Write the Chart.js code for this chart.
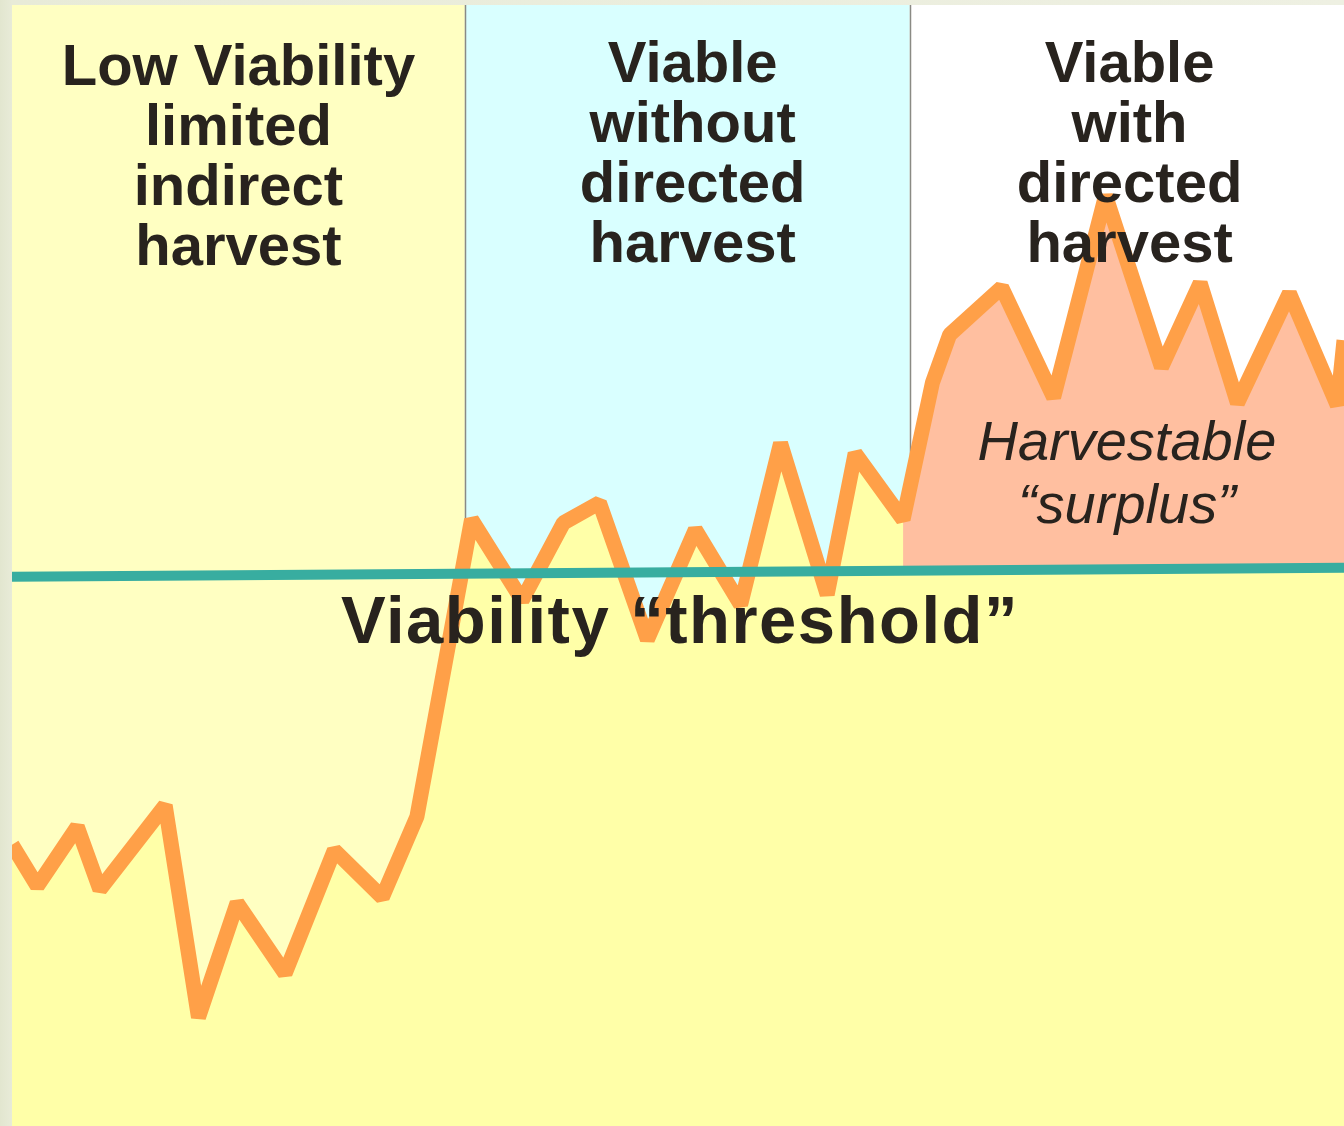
<!DOCTYPE html>
<html>
<head>
<meta charset="utf-8">
<script src="https://cdn.jsdelivr.net/npm/chart.js@4.4.1/dist/chart.umd.min.js"></script>
<style>
  html, body { margin: 0; padding: 0; }
  body { width: 1344px; height: 1126px; background: linear-gradient(90deg, #e2e6cf 0px, #e8ebd8 12px, #eef0e2 100%); overflow: hidden; }
  canvas { display: block; }
</style>
</head>
<body>
<canvas id="viaChart" width="1344" height="1126"></canvas>
<script>
// population trajectory (x = time, y = population index)
let popX = [0, 1.9, 4.9, 6.6, 11.5, 14.0, 16.9, 20.5, 24.2, 27.8, 30.4,
            34.5, 38.3, 41.4, 44.1, 47.7, 51.3, 54.7, 57.7, 61.2, 63.3,
            66.9, 69.1, 70.4, 74.3, 78.2, 82.1, 86.3, 89.2, 92.0, 95.9, 99.5, 100];
let popY = [25.1, 21.4, 26.7, 21.1, 28.6, 9.7, 19.9, 13.6, 24.6, 20.4, 27.6,
            54.1, 46.9, 53.8, 55.6, 43.4, 53.2, 46.5, 60.9, 47.4, 60.0,
            54.1, 66.3, 70.6, 74.8, 65.0, 83.0, 67.7, 75.2, 64.5, 74.3, 64.3, 70.1];

// viability threshold
let threshX = [0, 100];
let threshY = [49.0, 49.8];

// surplus starts where the harvest zone begins
let surplusFrom = 21;

// zones
let zoneStart = [0, 34.0, 67.4];
let zoneEnd = [34.0, 67.4, 100];
let zoneColors = ['#ffffc2', '#d9ffff', '#ffffff'];
let zoneTitles = [
  ['Low Viability', 'limited', 'indirect', 'harvest'],
  ['Viable', 'without', 'directed', 'harvest'],
  ['Viable', 'with', 'directed', 'harvest']
];
let zoneTitleX = [17.0, 51.1, 83.9];

const pts = (xs, ys) => xs.map((x, i) => ({x: x, y: ys[i]}));
let popPts = pts(popX, popY);
let surplusPts = popPts.slice(surplusFrom);

const textColor = '#28231e';

const zonesPlugin = {
  id: 'zones',
  beforeDatasetsDraw(chart) {
    const {ctx, chartArea, scales} = chart;
    ctx.save();
    zoneStart.forEach((s, i) => {
      const x0 = scales.x.getPixelForValue(s);
      const x1 = scales.x.getPixelForValue(zoneEnd[i]);
      ctx.fillStyle = zoneColors[i];
      ctx.fillRect(x0, chartArea.top, x1 - x0, chartArea.bottom - chartArea.top);
    });
    ctx.strokeStyle = '#8a8a84';
    ctx.lineWidth = 1.5;
    zoneStart.slice(1).forEach(s => {
      const x = Math.round(scales.x.getPixelForValue(s)) + 0.5;
      ctx.beginPath();
      ctx.moveTo(x, chartArea.top);
      ctx.lineTo(x, chartArea.bottom);
      ctx.stroke();
    });
    ctx.restore();
  },
  afterDatasetsDraw(chart) {
    const {ctx, chartArea, scales} = chart;
    ctx.save();
    ctx.fillStyle = textColor;
    ctx.textAlign = 'center';
    ctx.textBaseline = 'alphabetic';
    ctx.font = 'bold 58px "Liberation Sans", Arial, sans-serif';
    zoneTitles.forEach((lines, i) => {
      const cx = scales.x.getPixelForValue(zoneTitleX[i]);
      const first = chartArea.top + (i === 0 ? 80 : 77);
      lines.forEach((t, j) => ctx.fillText(t, cx, first + j * 60));
    });
    ctx.font = 'bold 67px "Liberation Sans", Arial, sans-serif';
    ctx.letterSpacing = '1.5px';
    ctx.fillText('Viability \u201cthreshold\u201d', scales.x.getPixelForValue(50.15), scales.y.getPixelForValue(43.1));
    ctx.letterSpacing = '0px';
    ctx.font = 'italic 56px "Liberation Sans", Arial, sans-serif';
    const hx = scales.x.getPixelForValue(83.7);
    ctx.fillText('Harvestable', hx, scales.y.getPixelForValue(59.4));
    ctx.fillText('\u201csurplus\u201d', hx, scales.y.getPixelForValue(53.8));
    ctx.restore();
  }
};

let viaChart = new Chart(document.getElementById('viaChart').getContext('2d'), {
  type: 'line',
  data: {
    datasets: [
      {
        label: 'below trajectory',
        data: popPts,
        borderWidth: 0,
        pointRadius: 0,
        fill: 'start',
        backgroundColor: '#ffffa8',
        order: 5
      },
      {
        label: 'Harvestable surplus',
        data: surplusPts,
        borderWidth: 0,
        pointRadius: 0,
        fill: 3,
        backgroundColor: '#ffbfa0',
        order: 4
      },
      {
        label: 'Population',
        data: popPts,
        borderColor: '#ffa048',
        borderWidth: 15,
        borderJoinStyle: 'bevel',
        pointRadius: 0,
        fill: false,
        order: 3
      },
      {
        label: 'Viability threshold',
        data: pts(threshX, threshY),
        borderColor: '#38ada0',
        borderWidth: 10,
        pointRadius: 0,
        fill: false,
        order: 2
      }
    ]
  },
  options: {
    responsive: false,
    animation: false,
    devicePixelRatio: 1,
    layout: { padding: { left: 12, top: 5, right: 0, bottom: 0 } },
    elements: { line: { tension: 0 } },
    scales: {
      x: { type: 'linear', min: 0, max: 100, display: false },
      y: { type: 'linear', min: 0, max: 100, display: false }
    },
    plugins: {
      legend: { display: false },
      tooltip: { enabled: false }
    }
  },
  plugins: [zonesPlugin]
});
</script>
</body>
</html>
